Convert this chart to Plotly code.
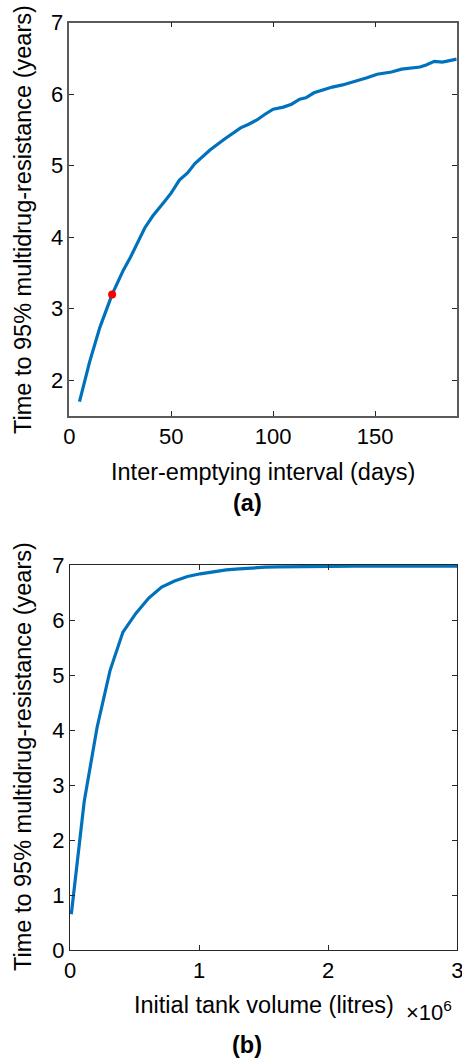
import plotly.graph_objects as go

# Panel (a): inter-emptying interval (days) vs time to 95% MDR (years)
interval_days = [5, 10, 15, 21, 26.5, 30, 37, 41, 47, 50, 54, 58, 61.6, 66, 69, 76, 80, 84, 88, 92,
                 96, 100, 105, 109, 113, 116, 120, 123, 129, 134, 138, 142, 146, 151, 154, 158,
                 163, 167, 172, 175, 179, 183, 190]
time_a = [1.70, 2.26, 2.74, 3.20, 3.54, 3.72, 4.13, 4.30, 4.51, 4.62, 4.80, 4.90, 5.03, 5.15, 5.22,
          5.37, 5.45, 5.53, 5.58, 5.64, 5.72, 5.79, 5.82, 5.86, 5.93, 5.95, 6.02, 6.05, 6.10, 6.13,
          6.16, 6.20, 6.23, 6.28, 6.29, 6.31, 6.35, 6.36, 6.38, 6.41, 6.46, 6.45, 6.49]
highlight_x = [21]
highlight_y = [3.20]

# Panel (b): initial tank volume (litres) vs time to 95% MDR (years)
volume_l = [0.01e6, 0.11e6, 0.21e6, 0.31e6, 0.41e6, 0.51e6, 0.61e6, 0.71e6, 0.81e6, 0.91e6,
            1.01e6, 1.11e6, 1.21e6, 1.31e6, 1.41e6, 1.51e6, 1.61e6, 1.71e6, 1.81e6, 1.91e6,
            2.01e6, 2.21e6, 2.41e6, 2.61e6, 2.81e6, 3.0e6]
time_b = [0.65, 2.70, 4.05, 5.08, 5.78, 6.12, 6.40, 6.60, 6.71, 6.79,
          6.84, 6.88, 6.91, 6.93, 6.95, 6.96, 6.965, 6.97, 6.972, 6.975,
          6.976, 6.978, 6.979, 6.98, 6.98, 6.98]

xticks_a = [0, 50, 100, 150]
yticks_a = [2, 3, 4, 5, 6, 7]
xticks_b = [0, 1e6, 2e6, 3e6]
xticklabels_b = ["0", "1", "2", "3"]
yticks_b = [0, 1, 2, 3, 4, 5, 6, 7]

FONT = "Liberation Sans, Arial, Helvetica, sans-serif"
LINE_COL = "#0072BD"
W, H = 462, 1060

fig = go.Figure()
fig.add_trace(go.Scatter(x=interval_days, y=time_a, mode="lines",
                         line=dict(color=LINE_COL, width=3.2), xaxis="x", yaxis="y",
                         showlegend=False))
fig.add_trace(go.Scatter(x=highlight_x, y=highlight_y, mode="markers",
                         marker=dict(color="#FF0000", size=8), xaxis="x", yaxis="y",
                         showlegend=False))
fig.add_trace(go.Scatter(x=volume_l, y=time_b, mode="lines",
                         line=dict(color=LINE_COL, width=3.2), xaxis="x2", yaxis="y2",
                         showlegend=False))

def px_x(p):
    return p / W

def px_y(p):
    return 1 - p / H

def axis_style(col, lw):
    return dict(showline=True, linecolor=col, linewidth=lw, mirror="ticks",
                ticks="inside", ticklen=5, tickcolor="#262626", tickwidth=1,
                showgrid=False, zeroline=False, ticklabeloverflow="allow",
                automargin=False,
                tickfont=dict(family=FONT, size=22, color="#000000"))

fig.update_layout(
    width=W, height=H, margin=dict(l=0, r=0, t=0, b=0, autoexpand=False),
    paper_bgcolor="white", plot_bgcolor="white",
    xaxis=dict(domain=[px_x(69.3), px_x(456.7)], range=[0, 190], tickvals=xticks_a,
               anchor="y", **axis_style("#5a5a5a", 1.5)),
    yaxis=dict(domain=[px_y(416), px_y(22.7)], range=[1.5, 7.0001], tickvals=yticks_a,
               anchor="x", **axis_style("#5a5a5a", 1.5)),
    xaxis2=dict(domain=[px_x(70), px_x(457.3)], range=[0, 3.0002e6], tickvals=xticks_b,
                ticktext=xticklabels_b, anchor="y2", **axis_style("#262626", 1.2)),
    yaxis2=dict(domain=[px_y(950), px_y(565)], range=[0, 7.0001], tickvals=yticks_b,
                anchor="x2", **axis_style("#262626", 1.2)),
)

title_font = dict(family=FONT, size=23.5, color="#000000")
ann = [
    dict(text="Inter-emptying interval (days)", x=px_x(263), y=px_y(472), font=title_font),
    dict(text="<b>(a)</b>", x=px_x(247), y=px_y(503), font=title_font),
    dict(text="Time to 95% multidrug-resistance (years)", x=px_x(23), y=px_y(220),
         textangle=-90, font=title_font),
    dict(text="Initial tank volume (litres)", x=px_x(264), y=px_y(1005), font=title_font),
    dict(text="×10<sup>6</sup>", x=px_x(429), y=px_y(1011),
         font=dict(family=FONT, size=22, color="#000000")),
    dict(text="Time to 95% multidrug-resistance (years)", x=px_x(23), y=px_y(757),
         textangle=-90, font=title_font),
    dict(text="<b>(b)</b>", x=px_x(247), y=px_y(1045), font=title_font),
]
for a in ann:
    fig.add_annotation(xref="paper", yref="paper", showarrow=False,
                       xanchor="center", yanchor="middle", **a)

fig.write_html("out.html")
